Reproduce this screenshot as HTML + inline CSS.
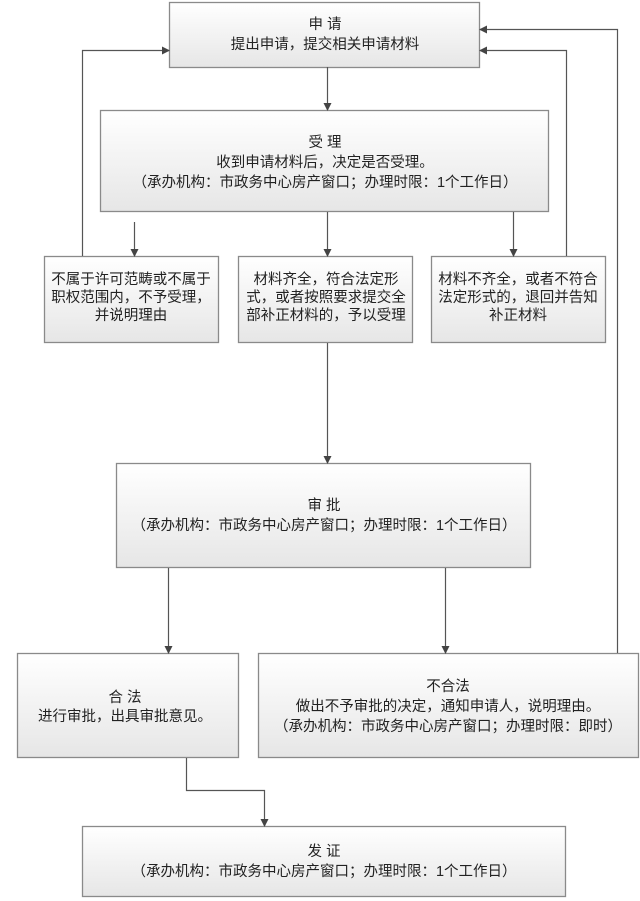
<!DOCTYPE html>
<html><head><meta charset="utf-8"><style>
html,body{margin:0;padding:0;background:#fff;}
svg{display:block;}
text{font-family:"Liberation Sans","Noto Sans CJK SC",sans-serif;font-size:14.5px;fill:#222;text-anchor:middle;}
</style></head><body>
<svg width="640" height="901" viewBox="0 0 640 901" xmlns="http://www.w3.org/2000/svg">
<defs>
<linearGradient id="g" x1="0" y1="0" x2="0" y2="1"><stop offset="0" stop-color="#ffffff"/><stop offset="1" stop-color="#e6e6e6"/></linearGradient>
<marker id="a" markerWidth="8" markerHeight="8" refX="7" refY="4" orient="auto" markerUnits="userSpaceOnUse"><path d="M0,0 L8,4 L0,8 z" fill="#444"/></marker>
</defs>
<g fill="url(#g)" stroke="#8a8a8a" stroke-width="1.3">
<rect x="169.5" y="2.5" width="310" height="65"/>
<rect x="100.5" y="110.5" width="448" height="101"/>
<rect x="44.5" y="256.5" width="174" height="86"/>
<rect x="238.5" y="256.5" width="174" height="86"/>
<rect x="431.5" y="256.5" width="174" height="86"/>
<rect x="116.5" y="463.5" width="414" height="104"/>
<rect x="17.5" y="653.5" width="221" height="104"/>
<rect x="258.5" y="653.5" width="380" height="104"/>
<rect x="82.5" y="826.5" width="483" height="70"/>
</g>
<g stroke="#555" stroke-width="1.2" fill="none" marker-end="url(#a)">
<path d="M327.5 67 V110"/>
<path d="M82.5 256 V50.5 H169"/>
<path d="M566.5 256 V50.5 H480"/>
<path d="M617.5 653 V29.5 H480"/>
<path d="M134.5 222 V256"/>
<path d="M327.5 212 V256"/>
<path d="M513.5 212 V256"/>
<path d="M327.5 343 V463"/>
<path d="M168.5 568 V653"/>
<path d="M445.5 568 V653"/>
<path d="M186.5 758 V790.5 H264.5 V826"/>
</g>
<text x="325" y="29">申 请</text>
<text x="325" y="49">提出申请，提交相关申请材料</text>
<text x="325" y="147">受 理</text>
<text x="325" y="167">收到申请材料后，决定是否受理。</text>
<text x="325" y="187">（承办机构：市政务中心房产窗口；办理时限：1个工作日）</text>
<text x="131" y="284">不属于许可范畴或不属于</text>
<text x="131" y="302">职权范围内，不予受理，</text>
<text x="131" y="320">并说明理由</text>
<text x="326" y="284">材料齐全，符合法定形</text>
<text x="326" y="302">式，或者按照要求提交全</text>
<text x="326" y="320">部补正材料的，予以受理</text>
<text x="518" y="284">材料不齐全，或者不符合</text>
<text x="518" y="302">法定形式的，退回并告知</text>
<text x="518" y="320">补正材料</text>
<text x="324" y="510">审 批</text>
<text x="324" y="530">（承办机构：市政务中心房产窗口；办理时限：1个工作日）</text>
<text x="125" y="702">合 法</text>
<text x="125" y="721">进行审批，出具审批意见。</text>
<text x="448" y="691">不合法</text>
<text x="448" y="711">做出不予审批的决定，通知申请人，说明理由。</text>
<text x="448" y="731">（承办机构：市政务中心房产窗口；办理时限：即时）</text>
<text x="324" y="856">发 证</text>
<text x="324" y="876">（承办机构：市政务中心房产窗口；办理时限：1个工作日）</text>
</svg>
</body></html>
